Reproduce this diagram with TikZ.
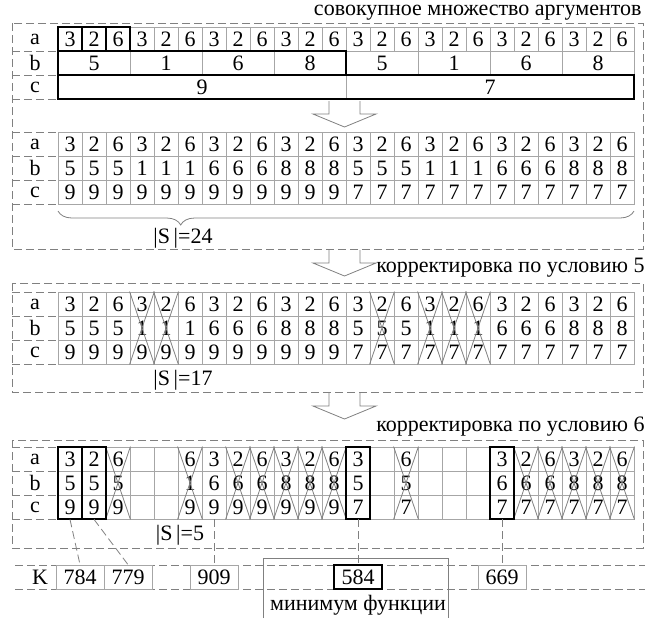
\documentclass[tikz,border=0pt]{standalone}
\usepackage{fontspec}
\setmainfont{Liberation Serif}
\usetikzlibrary{positioning,decorations.pathreplacing,calc}

\newcommand{\cellfont}{\fontsize{11}{13}\selectfont}

\begin{document}
\begin{tikzpicture}[x=0.5pt, y=-0.5pt,
  cell/.style={draw=gray!70, thin, minimum width=12pt, minimum height=12pt,
               inner sep=0pt, font=\cellfont},
  wcell/.style={cell, minimum width=36pt},
  hcell/.style={cell, minimum width=144pt},
  kcell/.style={cell, minimum width=24pt},
  kbest/.style={kcell, draw=black, line width=1pt},
  thickbox/.style={draw=black, line width=1pt},
  crossln/.style={draw=gray, thin},
  sectbox/.style={draw=gray, dash pattern=on 4pt off 2pt},
  connln/.style={draw=gray, dash pattern=on 4pt off 2pt},
  rowlbl/.style={font=\cellfont, inner sep=0pt},
  titlelbl/.style={font=\cellfont, anchor=east, inner sep=0pt},
  hollow/.style={draw=gray, thin},
]
  \useasboundingbox (0,0) rectangle (648,618);

  % Section frames
  \draw[sectbox] (12,23) rectangle (643,249);
  \draw[sectbox] (12,283) rectangle (643,392);
  \draw[sectbox] (12,440) rectangle (643,548);

  % Titles
  \node[titlelbl] (t1) at (642,13) {совокупное множество аргументов};
  \node[titlelbl] (t2) at (645,268) {корректировка по условию 5};
  \node[titlelbl] (t3) at (645,427) {корректировка по условию 6};

  % Row labels with dashed stubs
  \foreach \g/\ty in {A/27, B/132, C/292, D/447} {
    \node[rowlbl] (\g la) at (35,\ty+12) {a};
    \node[rowlbl] (\g lb) at (35,\ty+36) {b};
    \node[rowlbl] (\g lc) at (35,\ty+60) {c};
    \foreach \dy in {24,48,72}
      \draw[sectbox] (12,\ty+\dy) -- (56,\ty+\dy);
  }
  \foreach \ty in {132, 292, 447}
    \draw[sectbox] (12,\ty) -- (56,\ty);

  % Aggregate table (merged cells)
  \foreach \i in {0,...,23} {
    \pgfmathtruncatemacro\va{{3,2,6}[mod(\i,3)]}
    \node[cell] (Aa\i) at (70+24*\i,39) {\va};
  }
  \foreach \v [count=\k from 0] in {5,1,6,8,5,1,6,8}
    \node[wcell] (Ab\k) at (94+72*\k,63) {\v};
  \node[hcell] (Ac0) at (202,87) {9};
  \node[hcell] (Ac1) at (490,87) {7};
  \foreach \i in {0,1,2}
    \draw[thickbox] (Aa\i.north west) rectangle (Aa\i.south east);
  \draw[thickbox] (Ab0.north west) rectangle (Ab3.south east);
  \draw[thickbox] (Ac0.north west) rectangle (Ac1.south east);

  % Expanded tables
  \foreach \g/\ty in {B/132, C/292} {
    \foreach \i in {0,...,23} {
      \pgfmathtruncatemacro\va{{3,2,6}[mod(\i,3)]}
      \pgfmathtruncatemacro\vb{{5,1,6,8}[mod(int(\i/3),4)]}
      \pgfmathtruncatemacro\vc{\i<12 ? 9 : 7}
      \node[cell] (\g a\i) at (70+24*\i,\ty+12) {\va};
      \node[cell] (\g b\i) at (70+24*\i,\ty+36) {\vb};
      \node[cell] (\g c\i) at (70+24*\i,\ty+60) {\vc};
    }
  }
  \foreach \i in {0,1,2,5,6,7,8,9,10,11,12,14,18,19,20,21,22,23} {
    \pgfmathtruncatemacro\va{{3,2,6}[mod(\i,3)]}
    \pgfmathtruncatemacro\vb{{5,1,6,8}[mod(int(\i/3),4)]}
    \pgfmathtruncatemacro\vc{\i<12 ? 9 : 7}
    \node[cell] (Da\i) at (70+24*\i,459) {\va};
    \node[cell] (Db\i) at (70+24*\i,483) {\vb};
    \node[cell] (Dc\i) at (70+24*\i,507) {\vc};
  }
  \foreach \i in {3,4,13,15,16,17} {
    \node[cell] (Da\i) at (70+24*\i,459) {};
    \node[cell] (Db\i) at (70+24*\i,483) {};
    \node[cell] (Dc\i) at (70+24*\i,507) {};
  }

  % Struck-out columns
  \foreach \i in {3,4,13,15,16,17}
    \draw[crossln] (Ca\i.north west) -- (Cc\i.south east)
                   (Ca\i.north east) -- (Cc\i.south west);
  \foreach \i in {2,5,7,8,9,10,11,14,19,20,21,22,23}
    \draw[crossln] (Da\i.north west) -- (Dc\i.south east)
                   (Da\i.north east) -- (Dc\i.south west);
  \foreach \i in {0,1,12,18}
    \draw[thickbox] (Da\i.north west) rectangle (Dc\i.south east);

  % Brace and set sizes
  \draw[gray, decorate, decoration={brace, mirror, amplitude=7pt, aspect=0.213}]
    (58,211) -- (634,211);
  \node[rowlbl] (s24) at (183,238) {|S\,|=24};
  \node[rowlbl] (s17) at (183,380) {|S\,|=17};
  \node[rowlbl] (s5) at (180,535) {|S\,|=5};

  % Hollow arrows between stages
  \foreach \ya in {101, 250, 393}
    \draw[hollow] (329,\ya) -- (329,\ya+13) -- (313,\ya+13) -- (344.5,\ya+26)
                  -- (376,\ya+13) -- (360,\ya+13) -- (360,\ya);

  % Function values
  \draw[sectbox] (15,565) -- (645,565);
  \draw[sectbox] (15,589) -- (645,589);
  \node[rowlbl] (klbl) at (40,577) {K};
  \node[kcell] (k784) at (80,577) {784};
  \node[kcell] (k779) at (128,577) {779};
  \node[kcell] (k909) at (214,577) {909};
  \node[kbest] (k584) at (358,577) {584};
  \node[kcell] (k669) at (502,577) {669};
  \draw[gray, thin] (263,618) -- (263,558) -- (448,558) -- (448,618);
  \node[rowlbl] (minlbl) at (358,605) {минимум функции};

  % Links from kept columns
  \draw[connln] (Dc0.south) -- (k784.north);
  \draw[connln] (Dc1.south) -- (k779.north);
  \draw[connln] (Dc6.south) -- (k909.north);
  \draw[connln] (Dc12.south) -- (k584.north);
  \draw[connln] (Dc18.south) -- (k669.north);
\end{tikzpicture}
\end{document}
